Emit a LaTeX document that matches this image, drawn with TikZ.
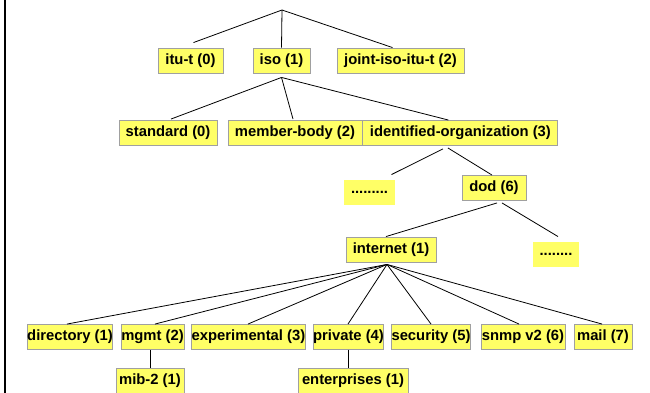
\documentclass[tikz,border=0pt]{standalone}
\usepackage{fontspec}
\setmainfont{Liberation Sans}
\usetikzlibrary{positioning}
\definecolor{boxyellow}{HTML}{FFFF66}
\definecolor{boxgray}{HTML}{A0A0A0}

\begin{document}
\begin{tikzpicture}[
    x=1pt, y=-1pt,
    oid/.style={draw=boxgray, line width=0.9pt, fill=boxyellow, minimum height=25pt, inner xsep=0pt, inner ysep=0pt, font=\fontsize{14.8}{16}\selectfont\bfseries},
    more/.style={oid, draw=none},
    branch/.style={draw=black, line width=0.8pt}
]
    \useasboundingbox (0,0) rectangle (650,393);
    \draw[line width=2pt] (5,0) -- (5,393);

    % Root
    \coordinate (root) at (282,10);

    % Top level
    \node[oid, minimum width=65pt] (itut) at (190.5,60.5) {itu-t (0)};
    \node[oid, minimum width=57pt] (iso) at (281.5,60.5) {iso (1)};
    \node[oid, minimum width=127pt] (joint) at (400.5,60.5) {joint-iso-itu-t (2)};

    % Under iso
    \node[oid, minimum width=98pt] (std) at (168,133) {standard (0)};
    \node[oid, minimum width=134pt] (member) at (295,133) {member-body (2)};
    \node[oid, minimum width=195pt, right=0pt of member] (ident) {identified-organization (3)};

    % Under identified-organization
    \node[more, minimum width=51pt] (dotsA) at (369.5,192.5) {.........};
    \node[oid, minimum width=64pt] (dod) at (494,188) {dod (6)};

    % Under dod
    \node[oid, minimum width=90pt] (inet) at (391,249.5) {internet (1)};
    \node[more, minimum width=46pt] (dotsB) at (556,254.5) {........};

    % Under internet
    \node[oid, minimum width=82pt] (dir) at (70,337) {directory (1)};
    \node[oid, minimum width=63pt] (mgmt) at (152.5,337) {mgmt (2)};
    \node[oid, minimum width=111pt] (exper) at (248.5,337) {experimental (3)};
    \node[oid, minimum width=69pt] (priv) at (348.5,337) {private (4)};
    \node[oid, minimum width=78pt] (secu) at (431,337) {security (5)};
    \node[oid, minimum width=84pt] (snmp) at (523,337) {snmp v2 (6)};
    \node[oid, minimum width=58pt] (mail) at (603,337) {mail (7)};

    % Leaves
    \node[oid, minimum width=68pt] (mib) at (150,380.5) {mib-2 (1)};
    \node[oid, minimum width=110pt] (ent) at (353,380.5) {enterprises (1)};

    % Connectors
    \draw[branch] (root) -- ([xshift=3pt, yshift=5pt]itut.north);
    \draw[branch] (root) -- (iso.north);
    \draw[branch] (root) -- ([xshift=-8pt]joint.north);

    \draw[branch] ([yshift=-4pt]iso.south) -- ([xshift=3pt, yshift=1pt]std.north);
    \draw[branch] ([yshift=-4pt]iso.south) -- ([xshift=-2pt, yshift=1pt]member.north);
    \draw[branch] ([yshift=-4pt]iso.south) -- ([xshift=-12pt]ident.north);

    \draw[branch] ([xshift=-17.5pt, yshift=-3pt]ident.south) -- ([xshift=22pt, yshift=5pt]dotsA.north);
    \draw[branch] ([xshift=-12.5pt, yshift=-2pt]ident.south) -- ([xshift=-2pt]dod.north);

    \draw[branch] ([xshift=3pt, yshift=-2pt]dod.south) -- ([xshift=-5pt]inet.north);
    \draw[branch] ([xshift=8pt, yshift=-2pt]dod.south) -- ([xshift=2pt, yshift=5pt]dotsB.north);

    \foreach \kid/\dx in {dir/-3, mgmt/2.5, exper/-0.5, priv/-0.5, secu/0, snmp/-4, mail/-1}
        \draw[branch] ([xshift=-4pt, yshift=-2pt]inet.south) -- ([xshift=\dx pt]\kid.north);

    \draw[branch] (mgmt.south -| mib.north) -- (mib.north);
    \draw[branch] (priv.south) -- (priv.south |- ent.north);

\end{tikzpicture}
\end{document}
